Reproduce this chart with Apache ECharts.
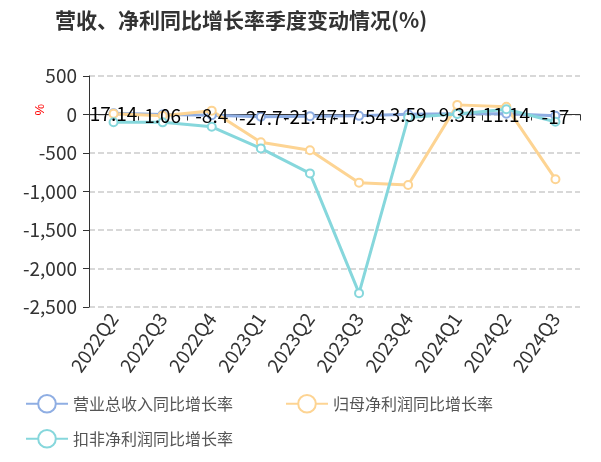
<!DOCTYPE html>
<html>
<head>
<meta charset="utf-8">
<script src="https://cdn.jsdelivr.net/npm/echarts@6/dist/echarts.min.js"></script>
<style>
  html, body { margin: 0; padding: 0; background: #fff; }
  #main { width: 601px; height: 462px; }
</style>
</head>
<body>
<div id="main"></div>
<script>
// 季度
const quarters = ['2022Q2', '2022Q3', '2022Q4', '2023Q1', '2023Q2', '2023Q3', '2023Q4', '2024Q1', '2024Q2', '2024Q3']
// 营业总收入同比增长率
const revenueGrowth = [17.14, 1.06, -8.4, -27.7, -21.47, -17.54, 3.59, 9.34, 11.14, -17]
// 归母净利润同比增长率
const netProfitGrowth = [10, -15, 50, -360, -465, -885, -915, 125, 100, -840]
// 扣非净利润同比增长率
const deductedProfitGrowth = [-100, -102, -160, -440, -765, -2320, -40, 8, 68, -95]
// y轴范围
const yMin = -2500
const yMax = 500
const yStep = 500

const seriesNames = ['营业总收入同比增长率', '归母净利润同比增长率', '扣非净利润同比增长率']
const colors = ['#8FAEE3', '#FDD493', '#86D7DC']

const gridTop = 76
const gridBottom = 155
const chartHeight = 462
// 零轴所在位置（距底部）
const zeroBottom = gridBottom + (chartHeight - gridTop - gridBottom) * (0 - yMin) / (yMax - yMin)

const myChart = echarts.init(document.getElementById('main'))

const lineSeries = (name, data, color, withLabel) => ({
    name: name,
    type: 'line',
    data: data,
    symbol: 'emptyCircle',
    symbolSize: 8,
    itemStyle: { color: color },
    lineStyle: { width: 3, color: color },
    label: withLabel ? {
        show: true,
        position: 'inside',
        offset: [0, 1],
        color: '#000',
        fontSize: 19,
        fontFamily: 'Noto Sans CJK SC'
    } : { show: false }
})

const legendItem = (name, left, top) => ({
    data: [name],
    left: left,
    top: top,
    itemWidth: 42,
    itemHeight: 22,
    itemGap: 6,
    textStyle: { fontSize: 16, color: '#555' }
})

const option = {
    color: colors,
    textStyle: { fontFamily: 'Noto Sans CJK SC' },
    title: {
        text: '营收、净利同比增长率季度变动情况(%)',
        left: 50,
        top: 5,
        textStyle: { fontSize: 21, fontWeight: 'bold', color: '#333' }
    },
    legend: [
        legendItem(seriesNames[0], 20, 389),
        legendItem(seriesNames[1], 280, 389),
        legendItem(seriesNames[2], 20, 424)
    ],
    grid: [
        { left: 89, right: 21, top: gridTop, bottom: gridBottom },
        // 零轴用
        { left: 89, right: 21, top: gridTop, bottom: zeroBottom }
    ],
    graphic: [{
        type: 'text',
        left: 34,
        top: 104,
        rotation: Math.PI / 2,
        style: { text: '%', fill: '#ff0000', fontSize: 13 }
    }],
    xAxis: [{
        type: 'category',
        gridIndex: 0,
        data: quarters,
        position: 'bottom',
        axisLine: { show: false, onZero: false },
        axisTick: { show: false },
        axisLabel: { interval: 0, rotate: 55, fontSize: 19, color: '#333', margin: 8 }
    }, {
        type: 'category',
        gridIndex: 1,
        data: quarters,
        position: 'bottom',
        axisLine: { show: true, onZero: false, lineStyle: { color: '#333' } },
        axisTick: { show: true, interval: 0, length: 6, lineStyle: { color: '#333' } },
        axisLabel: { show: false }
    }],
    yAxis: [{
        type: 'value',
        gridIndex: 0,
        min: yMin,
        max: yMax,
        interval: yStep,
        axisLine: { show: true, lineStyle: { color: '#333' } },
        axisTick: { show: true, length: 6 },
        axisLabel: { fontSize: 19, color: '#333', margin: 12 },
        splitLine: { lineStyle: { type: 'dashed', color: '#ccc', width: 1.5 } }
    }, {
        type: 'value',
        gridIndex: 1,
        min: 0,
        max: yMax,
        show: false
    }],
    series: [
        lineSeries(seriesNames[0], revenueGrowth, colors[0], true),
        lineSeries(seriesNames[1], netProfitGrowth, colors[1], false),
        lineSeries(seriesNames[2], deductedProfitGrowth, colors[2], false)
    ]
}

myChart.setOption(option)
</script>
</body>
</html>
